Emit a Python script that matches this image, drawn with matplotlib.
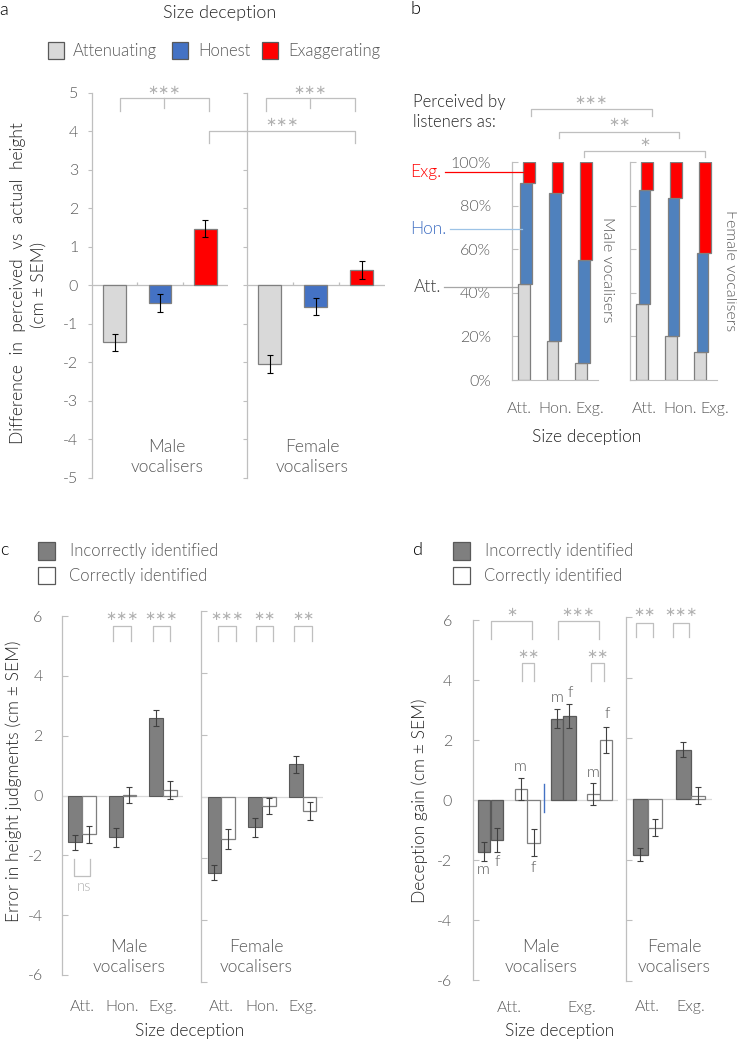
import matplotlib
matplotlib.use('Agg')
import matplotlib.pyplot as plt
from matplotlib.patches import Rectangle
from matplotlib.lines import Line2D
import matplotlib.transforms as mtransforms
import numpy as np

# ---------------- data ----------------
# Panel a: difference perceived vs actual height (cm)
a_series = ['Attenuating', 'Honest', 'Exaggerating']
a_male = [-1.47, -0.45, 1.48]
a_male_err = [0.22, 0.23, 0.23]
a_female = [-2.04, -0.55, 0.41]
a_female_err = [0.23, 0.22, 0.23]

# Panel b: perceived by listeners as (%), per size-deception category
b_cats = ['Att.', 'Hon.', 'Exg.']
b_male_att = [44.0, 18.0, 7.6]
b_male_hon = [46.5, 67.6, 47.4]
b_male_exg = [9.5, 14.4, 45.0]
b_female_att = [35.0, 20.0, 12.8]
b_female_hon = [52.0, 63.3, 45.6]
b_female_exg = [13.0, 16.7, 41.6]

# Panel c: error in height judgments (cm)
c_cats = ['Att.', 'Hon.', 'Exg.']
c_male_incorrect = [-1.57, -1.40, 2.59]
c_male_incorrect_err = [0.26, 0.33, 0.27]
c_male_correct = [-1.30, 0.03, 0.18]
c_male_correct_err = [0.29, 0.27, 0.29]
c_female_incorrect = [-2.46, -0.99, 1.04]
c_female_incorrect_err = [0.25, 0.31, 0.27]
c_female_correct = [-1.38, -0.31, -0.47]
c_female_correct_err = [0.32, 0.27, 0.30]

# Panel d: deception gain (cm)
d_cats = ['Att.', 'Exg.']
d_male_incorrect_m = [-1.72, 2.71]
d_male_incorrect_m_err = [0.32, 0.32]
d_male_incorrect_f = [-1.32, 2.79]
d_male_incorrect_f_err = [0.40, 0.40]
d_male_correct_m = [0.38, 0.21]
d_male_correct_m_err = [0.37, 0.36]
d_male_correct_f = [-1.43, 2.00]
d_male_correct_f_err = [0.45, 0.44]
d_female_incorrect = [-1.83, 1.63]
d_female_incorrect_err = [0.22, 0.25]
d_female_correct = [-0.94, 0.10]
d_female_correct_err = [0.29, 0.28]

# ---------------- setup ----------------
W, H = 737, 1040
plt.rcParams['font.family'] = ['Lato', 'DejaVu Sans']
plt.rcParams['font.weight'] = 300
fig = plt.figure(figsize=(W / 100, H / 100), dpi=100)
P = mtransforms.Affine2D().scale(1 / W, -1 / H).translate(0, 1) + fig.transFigure

TICK = '#595959'
DARK = '#262626'
SPINE = '#bfbfbf'
BR = '#bfbfbf'
STAR = '#b0b0b0'


def add_ax(x0, y0, x1, y1):
    return fig.add_axes([x0 / W, 1 - y1 / H, (x1 - x0) / W, (y1 - y0) / H])


def ptext(x, y, s, **kw):
    kw.setdefault('ha', 'center')
    kw.setdefault('va', 'center')
    return fig.text(x, y, s, transform=P, **kw)


def pline(xs, ys, color=BR, lw=0.9):
    fig.add_artist(Line2D(xs, ys, transform=P, color=color, lw=lw))


def stars_text(x, y, s):
    ptext(x, y, s, color=STAR, fontsize=9.5, family='DejaVu Sans',
          fontweight='normal')


def bracket_down(x0, x1, ytop, ybot, stars=None, sy=None, mid=None):
    pline([x0, x0, x1, x1], [ybot, ytop, ytop, ybot])
    if mid is not None:
        pline([(x0 + x1) / 2] * 2, [ytop, mid])
    if stars:
        stars_text((x0 + x1) / 2, sy, stars)


def style_ax(ax, ylim, yticks, labels=True, direction='out', ticklen=3, pad=4,
             fs=10.5):
    ax.set_ylim(*ylim)
    for s in ['top', 'right', 'bottom']:
        ax.spines[s].set_visible(False)
    ax.spines['left'].set_color(SPINE)
    ax.spines['left'].set_linewidth(0.9)
    ax.set_yticks(yticks)
    ax.tick_params(axis='y', direction=direction, length=ticklen, color=SPINE,
                   labelcolor=TICK, labelsize=fs, pad=pad,
                   labelleft=labels)
    ax.patch.set_alpha(0)


def fmt_ticks(vals):
    return [str(int(v)) for v in vals]


# ================= Panel a =================
ptext(4, 10, 'a', fontsize=13, color='black')
ptext(220, 13, 'Size deception', fontsize=13, color=DARK)
a_colors = ['#d9d9d9', '#4472c4', '#ff0000']
leg_a = [(48, 73), (172, 198), (262, 288)]
for (sx, tx), lab, col in zip(leg_a, a_series, a_colors):
    fig.add_artist(Rectangle((sx, 59), 16, -17, transform=P, facecolor=col,
                             edgecolor='#595959', lw=0.9))
    ptext(tx, 51, lab, ha='left', fontsize=12, color=TICK)

a_yt = list(range(-5, 6))
for (x0, x1), vals, errs, lab, xc, show in [
        ((92, 228), a_male, a_male_err, 'Male\nvocalisers', 167, True),
        ((247, 385), a_female, a_female_err, 'Female\nvocalisers', 312, False)]:
    ax = add_ax(x0, 93, x1, 478)
    style_ax(ax, (-5, 5), a_yt, labels=show, direction='out', ticklen=3,
             pad=7, fs=11.5)
    ax.set_yticklabels(fmt_ticks(a_yt))
    ax.set_xlim(-0.5, 2.5)
    x = np.arange(3)
    ax.bar(x, vals, width=0.5, color=a_colors, edgecolor='#7f7f7f', lw=0.9,
           zorder=3)
    ax.errorbar(x, vals, yerr=errs, fmt='none', ecolor='black', elinewidth=0.8,
                capsize=2.5, capthick=0.8, zorder=4)
    ax.axhline(0, color=SPINE, lw=0.9, zorder=2)
    ax.vlines([0.5, 1.5], 0, 0.08, color=SPINE, lw=0.9)
    ax.set_xticks([])
    ptext(xc, 457, lab, fontsize=12.5, color=TICK, linespacing=1.3)

ptext(18, 283, 'Difference  in  perceived  vs  actual  height', rotation=90,
      fontsize=12.5, color=DARK)
ptext(39, 285, '(cm ± SEM)', rotation=90, fontsize=12.5, color=DARK)

bracket_down(120, 209, 98, 111, '∗∗∗', 90, mid=108)
bracket_down(266, 355, 98, 111, '∗∗∗', 90, mid=108)
bracket_down(209, 355, 131, 143, '∗∗∗', 123)

# ================= Panel b =================
ptext(416, 9, 'b', fontsize=13, color='black')
ptext(413, 112, 'Perceived by\nlisteners as:', ha='left', fontsize=12,
      color=DARK, linespacing=1.3)
b_pct = [0, 20, 40, 60, 80, 100]
for (x0, x1), att, hon, exg, show, tpos in [
        ((512, 598), b_male_att, b_male_hon, b_male_exg, True,
         [-0.25, 1.0, 2.22]),
        ((630, 717), b_female_att, b_female_hon, b_female_exg, False,
         [0.0, 1.22, 2.43])]:
    ax = add_ax(x0, 162, x1, 380)
    style_ax(ax, (0, 100), b_pct, labels=show, direction='in', ticklen=4,
             pad=15, fs=11.5)
    ax.set_yticklabels([f'{p}%' for p in b_pct])
    ax.set_xlim(-0.5, 2.5)
    x = np.arange(3)
    att = np.array(att); hon = np.array(hon); exg = np.array(exg)
    ax.bar(x - 0.09, att, width=0.41, color='#d9d9d9', edgecolor='#7f7f7f',
           lw=0.9, zorder=3)
    ax.bar(x, hon, bottom=att, width=0.41, color='#4f81bd',
           edgecolor='#7f7f7f', lw=0.9, zorder=3)
    ax.bar(x + 0.09, exg, bottom=att + hon, width=0.41, color='#ff0000',
           edgecolor='#7f7f7f', lw=0.9, zorder=3)
    ax.spines['bottom'].set_visible(True)
    ax.spines['bottom'].set_color(SPINE)
    ax.set_xticks(tpos)
    ax.set_xticklabels(b_cats)
    ax.tick_params(axis='x', length=0, pad=16, labelsize=11.5,
                   labelcolor=TICK)

ptext(441, 172, 'Exg.', ha='right', fontsize=12.5, color='#ff0000')
pline([445, 523], [172, 172], color='#ff0000', lw=0.9)
ptext(446, 229, 'Hon.', ha='right', fontsize=12.5, color='#4472c4')
pline([450, 522], [229, 229], color='#9dc3e6', lw=0.9)
ptext(441, 287, 'Att.', ha='right', fontsize=12.5, color='#404040')
pline([444, 517], [287, 287], color='#a6a6a6', lw=0.9)

ptext(607, 270, 'Male vocalisers', rotation=-90, fontsize=11.5, color=TICK)
ptext(730, 271, 'Female vocalisers', rotation=-90, fontsize=11.5, color=TICK)
ptext(587, 437, 'Size deception', fontsize=12.5, color=DARK)

bracket_down(531, 652, 109, 116, '∗∗∗', 100)
bracket_down(559, 679, 132, 138, '∗∗', 123)
bracket_down(584, 705, 151, 157, '∗', 142)

# ================= Panel c =================
ptext(4, 550, 'c', fontsize=13, color='black')
INC = '#7f7f7f'
for lx, tx in [(38, 70), (453, 485)]:
    fig.add_artist(Rectangle((lx, 560), 17, -18, transform=P, facecolor=INC,
                             edgecolor='#595959', lw=0.9))
    fig.add_artist(Rectangle((lx, 584), 17, -17, transform=P,
                             facecolor='white', edgecolor='#595959', lw=0.9))
    ptext(tx, 551, 'Incorrectly identified', ha='left', fontsize=12,
          color=TICK)
    ptext(tx - 1, 576, 'Correctly identified', ha='left', fontsize=12,
          color=TICK)

c_yt = [-6, -4, -2, 0, 2, 4, 6]
for (x0, y0, x1, y1), inc, ince, cor, core, lab, xc, show, xpad in [
        ((62, 616, 183, 975), c_male_incorrect, c_male_incorrect_err,
         c_male_correct, c_male_correct_err, 'Male\nvocalisers', 129, True, 18),
        ((201, 611, 323, 982), c_female_incorrect, c_female_incorrect_err,
         c_female_correct, c_female_correct_err, 'Female\nvocalisers', 256,
         False, 13)]:
    ax = add_ax(x0, y0, x1, y1)
    style_ax(ax, (-6, 6), c_yt, labels=show, direction='in', ticklen=4,
             pad=14, fs=11.5)
    ax.set_yticklabels(fmt_ticks(c_yt))
    ax.set_xlim(-0.5, 2.5)
    x = np.arange(3)
    ax.bar(x - 0.17, inc, width=0.34, color=INC, edgecolor='#595959', lw=0.8,
           zorder=3)
    ax.bar(x + 0.17, cor, width=0.34, color='white', edgecolor='#7f7f7f',
           lw=0.9, zorder=3)
    ax.errorbar(x - 0.17, inc, yerr=ince, fmt='none', ecolor='#404040',
                elinewidth=0.8, capsize=2, capthick=0.8, zorder=4)
    ax.errorbar(x + 0.17, cor, yerr=core, fmt='none', ecolor='#404040',
                elinewidth=0.8, capsize=2, capthick=0.8, zorder=4)
    ax.axhline(0, color='#d9d9d9', lw=0.9, zorder=2)
    ax.set_xticks(x)
    ax.set_xticklabels(c_cats)
    ax.tick_params(axis='x', length=0, pad=xpad, labelsize=11.5,
                   labelcolor=TICK)
    ptext(xc, 957, lab, fontsize=12.5, color=TICK, linespacing=1.25)

ptext(14, 781, 'Error in height judgments (cm ± SEM)', rotation=90,
      fontsize=12.5, color=DARK)
ptext(190, 1031, 'Size deception', fontsize=12.5, color=DARK)


def bracket_c(x0, x1, ytop, ybot, stars, sy):
    pline([x0, x0, x1, x1], [ybot, ytop, ytop, ybot])
    stars_text((x0 + x1) / 2, sy, stars)


bracket_c(113, 131, 626, 641, '∗∗∗', 616)
bracket_c(153, 170, 626, 641, '∗∗∗', 616)
bracket_c(218, 236, 626, 641, '∗∗∗', 616)
bracket_c(256, 273, 626, 641, '∗∗', 616)
bracket_c(294, 312, 626, 641, '∗∗', 616)
pline([74, 74, 90, 90], [859, 876, 876, 859])
ptext(84, 887, 'ns', fontsize=10.5, color=STAR)

# ================= Panel d =================
ptext(418, 550, 'd', fontsize=13, color='black')
d_yt = [-6, -4, -2, 0, 2, 4, 6]

axm = add_ax(473, 620, 618, 980)
style_ax(axm, (-6, 6), d_yt, labels=True, direction='in', ticklen=4, pad=15,
         fs=11.5)
axm.set_yticklabels(fmt_ticks(d_yt))
axm.set_xlim(-0.5, 1.5)
x = np.arange(2)
for off, vals, errs, col, ec in [
        (-0.345, d_male_incorrect_m, d_male_incorrect_m_err, INC, '#595959'),
        (-0.172, d_male_incorrect_f, d_male_incorrect_f_err, INC, '#595959'),
        (0.162, d_male_correct_m, d_male_correct_m_err, 'white', '#7f7f7f'),
        (0.335, d_male_correct_f, d_male_correct_f_err, 'white', '#7f7f7f')]:
    axm.bar(x + off, vals, width=0.172, color=col, edgecolor=ec, lw=0.9,
            zorder=3)
    axm.errorbar(x + off, vals, yerr=errs, fmt='none', ecolor='#404040',
                 elinewidth=0.8, capsize=2, capthick=0.8, zorder=4)
axm.axhline(0, color='#d9d9d9', lw=0.9, zorder=2)
axm.set_xticks(x)
axm.set_xticklabels(d_cats)
axm.tick_params(axis='x', length=0, pad=15, labelsize=11.5, labelcolor=TICK)

axf = add_ax(626, 617, 712, 981)
style_ax(axf, (-6, 6), d_yt, labels=False, direction='in', ticklen=4)
axf.set_xlim(-0.5, 1.5)
axf.bar(x - 0.17, d_female_incorrect, width=0.34, color=INC,
        edgecolor='#595959', lw=0.9, zorder=3)
axf.bar(x + 0.17, d_female_correct, width=0.34, color='white',
        edgecolor='#7f7f7f', lw=0.9, zorder=3)
axf.errorbar(x - 0.17, d_female_incorrect, yerr=d_female_incorrect_err,
             fmt='none', ecolor='#404040', elinewidth=0.8, capsize=2,
             capthick=0.8, zorder=4)
axf.errorbar(x + 0.17, d_female_correct, yerr=d_female_correct_err,
             fmt='none', ecolor='#404040', elinewidth=0.8, capsize=2,
             capthick=0.8, zorder=4)
axf.axhline(0, color='#d9d9d9', lw=0.9, zorder=2)
axf.set_xticks(x)
axf.set_xticklabels(d_cats)
axf.tick_params(axis='x', length=0, pad=14, labelsize=11.5, labelcolor=TICK)

# thin blue marker line between Att groups
pline([544, 544], [784, 812], color='#4472c4', lw=1.0)

for tx, ty, s in [(483, 870, 'm'), (497, 862, 'f'), (520, 767, 'm'),
                  (533, 868, 'f'), (557, 698, 'm'), (570, 693, 'f'),
                  (593, 773, 'm'), (607, 714, 'f')]:
    ptext(tx, ty, s, fontsize=11.5, color=TICK)

ptext(541, 957, 'Male\nvocalisers', fontsize=12.5, color=TICK,
      linespacing=1.25)
ptext(674, 957, 'Female\nvocalisers', fontsize=12.5, color=TICK,
      linespacing=1.25)
ptext(420, 801, 'Deception gain (cm ± SEM)', rotation=90, fontsize=12.5,
      color=DARK)
ptext(560, 1031, 'Size deception', fontsize=12.5, color=DARK)

bracket_c(491, 532, 621, 639, '∗', 613)
bracket_c(522, 534, 663, 681, '∗∗', 655)
bracket_c(558, 599, 621, 639, '∗∗∗', 613)
bracket_c(591, 604, 663, 681, '∗∗', 655)
bracket_c(636, 653, 623, 637, '∗∗', 613)
bracket_c(673, 689, 623, 637, '∗∗∗', 613)

fig.savefig('out.png', dpi=100)
